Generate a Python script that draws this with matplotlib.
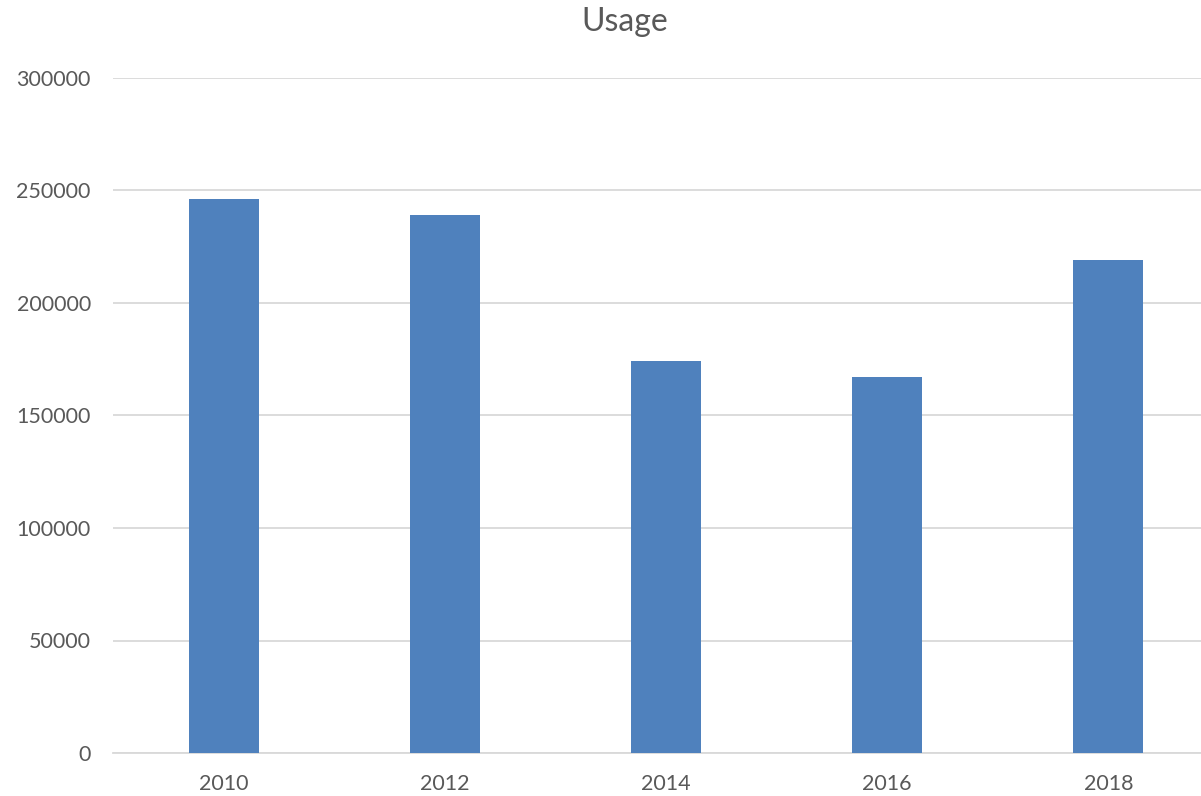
import matplotlib
matplotlib.use("Agg")
import matplotlib.pyplot as plt

# values
years = ["2010", "2012", "2014", "2016", "2018"]
usage = [246000, 239000, 174000, 167000, 219000]
y_ticks = [0, 50000, 100000, 150000, 200000, 250000, 300000]

plt.rcParams['font.family'] = ['Lato', 'DejaVu Sans']
text_col = '#595959'
grid_col = '#D9D9D9'

fig = plt.figure(figsize=(12.01, 7.96), dpi=100)
# plot area runs past the right edge, like the original
ax = fig.add_axes([113/1201, 43/796, 1106/1201, 675/796])

x = range(len(years))
ax.bar(x, usage, width=0.316, color='#4F81BD', zorder=3)

ax.set_xlim(-0.5, len(years) - 0.5)
ax.set_ylim(0, 300000)
ax.set_xticks(list(x))
ax.set_xticklabels(years)
ax.set_yticks(y_ticks)
ax.set_yticklabels([str(v) for v in y_ticks])

ax.yaxis.grid(True, color=grid_col, linewidth=1.3, zorder=0)
for s in ['top', 'right', 'left']:
    ax.spines[s].set_visible(False)
ax.spines['bottom'].set_color(grid_col)
ax.spines['bottom'].set_linewidth(1.3)
ax.tick_params(axis='both', length=0, labelsize=15.5, colors=text_col)
ax.tick_params(axis='y', pad=16)
ax.tick_params(axis='x', pad=15)

fig.text(625/1201, 1 - 22/796, "Usage", ha='center', va='center',
         fontsize=23, color=text_col)

fig.savefig("out.png", dpi=100)
